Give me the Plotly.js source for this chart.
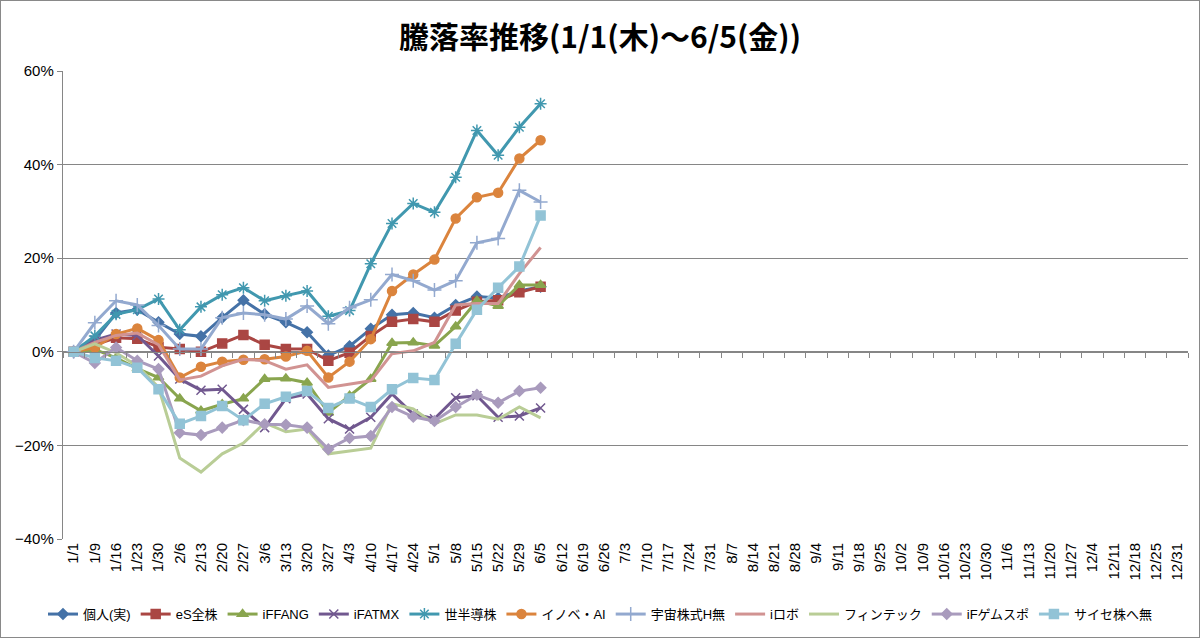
<!DOCTYPE html>
<html>
<head>
<meta charset="utf-8">
<script src="https://cdn.plot.ly/plotly-3.0.1.min.js"></script>
<style>
  html, body { margin: 0; padding: 0; background: #fff; }
  #wrap { width: 1198px; height: 636px; border: 1px solid #898989; }
  #chart { width: 1198px; height: 636px; }
</style>
</head>
<body>
<div id="wrap"><div id="chart"></div></div>
<script>
// weekly dates for the whole year (axis categories)
const dates = ["1/1","1/9","1/16","1/23","1/30","2/6","2/13","2/20","2/27","3/6","3/13","3/20","3/27",
  "4/3","4/10","4/17","4/24","5/1","5/8","5/15","5/22","5/29","6/5","6/12","6/19","6/26",
  "7/3","7/10","7/17","7/24","7/31","8/7","8/14","8/21","8/28","9/4","9/11","9/18","9/25",
  "10/2","10/9","10/16","10/23","10/30","11/6","11/13","11/20","11/27","12/4","12/11","12/18","12/25","12/31"];
// data exists only up to 6/5
const obsDates = dates.slice(0, 23);

// values in percent
const kojin   = [0, 2.5, 8.3, 9.0, 6.3, 3.8, 3.3, 7.3, 11.0, 8.0, 6.3, 4.2, -0.8, 1.2, 4.9, 7.9, 8.3, 7.3, 10.0, 11.8, 11.5, 13.0, 13.9];
const esAll   = [0, 1.5, 3.0, 2.8, 1.0, 0.6, 0.0, 1.8, 3.6, 1.5, 0.6, 0.6, -1.9, -0.2, 3.4, 6.4, 7.0, 6.4, 8.8, 10.7, 11.0, 12.7, 13.9];
const ffang   = [0, 0.5, -1.3, -3.6, -5.5, -10.0, -12.6, -11.2, -10.0, -5.8, -5.7, -6.6, -13.0, -9.4, -5.8, 1.9, 2.0, 1.3, 5.4, 10.9, 9.8, 14.3, 14.3];
const fatmx   = [0, 2.5, 3.8, 3.5, -0.9, -5.8, -8.2, -8.0, -12.3, -16.2, -10.0, -9.0, -14.3, -16.5, -14.0, -9.0, -13.3, -14.3, -9.8, -9.4, -14.0, -13.7, -12.0];
const semi    = [0, 3.4, 8.0, 9.0, 11.3, 4.7, 9.6, 12.2, 13.7, 10.9, 12.0, 13.0, 7.6, 8.8, 18.8, 27.4, 31.7, 29.8, 37.3, 47.3, 42.0, 48.0, 53.0];
const innovAI = [0, 0.9, 3.8, 5.0, 2.5, -5.5, -3.2, -2.1, -1.7, -1.6, -1.0, 0.2, -5.5, -2.1, 2.7, 13.0, 16.5, 19.7, 28.5, 33.0, 34.0, 41.3, 45.2];
const space   = [0, 6.2, 10.9, 10.0, 5.6, 0.6, 0.6, 7.3, 8.3, 7.9, 7.0, 9.8, 6.0, 9.4, 11.1, 16.5, 15.2, 13.2, 15.2, 23.3, 24.2, 34.5, 32.0];
const robo    = [0, 2.0, 3.5, 4.0, 1.5, -6.0, -5.2, -3.0, -1.6, -1.9, -3.7, -2.8, -7.6, -6.9, -6.2, -0.4, 0.2, 2.0, 10.0, 10.3, 10.3, 16.7, 22.3];
const fintech = [0, 1.7, -0.2, -3.0, -7.6, -22.7, -25.7, -21.8, -19.5, -15.2, -17.1, -16.5, -21.8, -21.2, -20.6, -11.1, -12.2, -15.4, -13.5, -13.5, -14.4, -11.8, -14.1];
const gamespo = [0, -2.4, 0.9, -1.9, -3.7, -17.3, -17.8, -16.2, -14.6, -15.5, -15.6, -16.2, -20.8, -18.4, -18.0, -11.8, -13.9, -14.8, -11.8, -9.2, -10.9, -8.4, -7.7];
const cyber   = [0, -1.3, -1.9, -3.4, -8.0, -15.4, -13.7, -11.6, -14.6, -11.1, -9.6, -8.4, -12.0, -10.0, -11.8, -8.0, -5.6, -6.0, 1.7, 9.0, 13.7, 18.2, 29.1];

const seriesNames = ["個人(実)","eS全株","iFFANG","iFATMX","世半導株","イノベ・AI","宇宙株式H無","iロボ","フィンテック","iFゲムスポ","サイセ株へ無"];
const seriesVals  = [kojin, esAll, ffang, fatmx, semi, innovAI, space, robo, fintech, gamespo, cyber];
const colors  = ["#4572A7","#AA4643","#89A54E","#71588F","#4198AF","#DB843D","#93A9CF","#D19392","#B9CD96","#A99BBD","#92C3D6"];
const symbols = ["diamond","square","triangle-up","x-thin-open","asterisk-open","circle","cross-thin-open", null, null, "diamond","square"];
const msizes  = [8, 9, 9, 9, 10, 9, 10, 0, 0, 8, 9];

const traces = seriesVals.map((vals, i) => {
  const t = {
    type: "scatter",
    name: seriesNames[i],
    x: obsDates,
    y: vals,
    line: { color: colors[i], width: 3 },
    hoverinfo: "x+y+name"
  };
  if (symbols[i]) {
    t.mode = "lines+markers";
    t.marker = { symbol: symbols[i], size: msizes[i], color: colors[i], line: { color: colors[i], width: 1.5 } };
  } else {
    t.mode = "lines";
  }
  return t;
});

// dummy trace so the zero-line category axis is drawn
traces.push({ type: "scatter", x: dates, y: dates.map(() => null), xaxis: "x2", yaxis: "y",
  showlegend: false, hoverinfo: "skip", mode: "lines" });

const axisGray = "#868686";
const font = "Liberation Sans, Noto Sans CJK JP, sans-serif";

const layout = {
  width: 1198, height: 636,
  margin: { l: 62, r: 11, t: 70, b: 98 },
  paper_bgcolor: "#fff", plot_bgcolor: "#fff",
  font: { family: font, color: "#000", size: 13 },
  title: {
    text: "<b>騰落率推移(1/1(木)～6/5(金))</b>",
    font: { family: "Noto Sans CJK JP, sans-serif", size: 30, color: "#000" },
    x: 0.5, xanchor: "center", y: 0.942, yanchor: "middle", yref: "container"
  },
  showlegend: true,
  legend: {
    orientation: "h", x: 0.5, xanchor: "center", xref: "container",
    y: 0.036, yanchor: "middle", yref: "container",
    font: { family: "Liberation Sans, Noto Sans CJK JP, sans-serif", size: 13, color: "#000" },
    itemwidth: 30, tracegroupgap: 0
  },
  xaxis: {
    type: "category", categoryorder: "array", categoryarray: dates,
    range: [-0.5, dates.length - 0.5],
    tickvals: dates, ticktext: dates,
    tickangle: -90, ticks: "", showline: false, showgrid: false, zeroline: false,
    tickfont: { size: 15, family: font }, fixedrange: true, automargin: false
  },
  xaxis2: {
    type: "category", categoryorder: "array", categoryarray: dates,
    range: [-0.5, dates.length - 0.5],
    overlaying: "x", anchor: "free", position: 0.4, side: "bottom",
    showticklabels: false, ticks: "outside", ticklen: 5, tickcolor: axisGray, tickson: "boundaries",
    showline: true, linecolor: axisGray, linewidth: 1.5, showgrid: false, zeroline: false
  },
  yaxis: {
    range: [-40, 60], dtick: 20, tick0: 0, ticksuffix: "%",
    showgrid: true, gridcolor: axisGray, gridwidth: 1,
    zeroline: false, showline: true, linecolor: axisGray, linewidth: 1.2,
    ticks: "outside", ticklen: 5, tickcolor: axisGray,
    tickfont: { size: 15, family: font }, fixedrange: true, automargin: false
  }
};

Plotly.newPlot("chart", traces, layout, { displayModeBar: false, staticPlot: true });
</script>
</body>
</html>
